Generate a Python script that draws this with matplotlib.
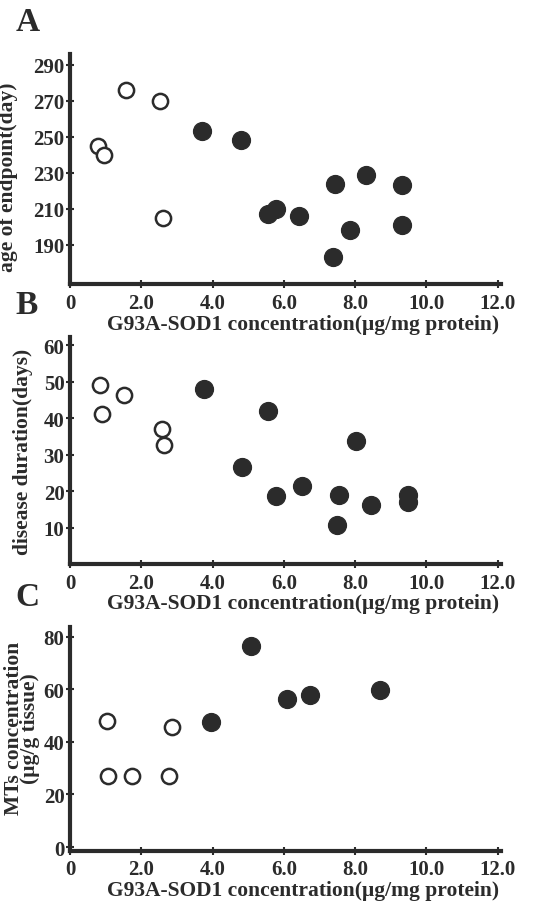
import matplotlib
matplotlib.use("Agg")
import matplotlib.pyplot as plt

plt.rcParams["font.family"] = ["Liberation Serif", "DejaVu Serif"]
plt.rcParams["font.weight"] = "bold"
plt.rcParams["axes.labelweight"] = "bold"
ink = "#2b2b2b"

# A: age of endpoint
a_open_x = [0.79, 0.95, 1.58, 2.53, 2.61]
a_open_y = [245, 240, 276, 270, 205]
a_fill_x = [3.70, 4.80, 5.57, 5.79, 6.43, 7.38, 7.45, 7.86, 8.32, 9.31, 9.31]
a_fill_y = [253, 248, 207, 210, 206, 183, 224, 198, 229, 223, 201]

# B: disease duration
b_open_x = [0.84, 0.91, 1.52, 2.59, 2.64]
b_open_y = [49.1, 41.1, 46.3, 37.0, 32.8]
b_fill_x = [3.75, 4.84, 5.57, 5.79, 6.50, 7.49, 7.56, 8.03, 8.44, 9.49, 9.49]
b_fill_y = [48.0, 26.8, 41.9, 18.8, 21.6, 10.7, 18.9, 33.7, 16.3, 19.1, 17.0]

# C: MTs concentration
c_open_x = [1.03, 1.07, 1.75, 2.79, 2.87]
c_open_y = [47.9, 26.9, 26.9, 26.9, 45.5]
c_fill_x = [3.95, 5.07, 6.09, 6.73, 8.70]
c_fill_y = [47.4, 76.6, 56.1, 57.8, 59.7]

x_ticks = [0, 2, 4, 6, 8, 10, 12]
x_tick_labels = ["0", "2.0", "4.0", "6.0", "8.0", "10.0", "12.0"]
x_label = "G93A-SOD1 concentration(\u03bcg/mg protein)"

fig = plt.figure(figsize=(5.6, 9.03), dpi=100)

panels = [
    dict(rect=[0.125, 0.684, 0.770, 0.255], ox=a_open_x, oy=a_open_y, fx=a_fill_x, fy=a_fill_y,
         ylim=(168, 296), yticks=[190, 210, 230, 250, 270, 290], ylabel="age of endpoint(day)",
         letter="A", letter_y=0.975, ylab_x=-0.12, ylab_y=0.47),
    dict(rect=[0.125, 0.374, 0.770, 0.252], ox=b_open_x, oy=b_open_y, fx=b_fill_x, fy=b_fill_y,
         ylim=(0, 62.4), yticks=[10, 20, 30, 40, 50, 60], ylabel="disease duration(days)",
         letter="B", letter_y=0.662, ylab_x=-0.085, ylab_y=0.5),
    dict(rect=[0.125, 0.0565, 0.770, 0.2485], ox=c_open_x, oy=c_open_y, fx=c_fill_x, fy=c_fill_y,
         ylim=(-1.5, 83.8), yticks=[0, 20, 40, 60, 80], ylabel="MTs concentration\n(\u03bcg/g tissue)",
         letter="C", letter_y=0.338, ylab_x=-0.07, ylab_y=0.55),
]

for p in panels:
    ax = fig.add_axes(p["rect"])
    ax.scatter(p["ox"], p["oy"], s=120, facecolors="white", edgecolors=ink, linewidths=1.8, zorder=3)
    ax.scatter(p["fx"], p["fy"], s=165, color=ink, edgecolors=ink, zorder=3)
    ax.set_xlim(0, 12.1)
    ax.set_ylim(*p["ylim"])
    ax.set_xticks(x_ticks)
    ax.set_xticklabels(x_tick_labels)
    ax.set_yticks(p["yticks"])
    for s in ["top", "right"]:
        ax.spines[s].set_visible(False)
    for s in ["left", "bottom"]:
        ax.spines[s].set_linewidth(3)
        ax.spines[s].set_color(ink)
    ax.tick_params(direction="inout", length=6, width=1.5, color=ink, labelcolor=ink,
                   labelsize=15, pad=1)
    ax.tick_params(axis="x", pad=3)
    ax.set_xlabel(x_label, fontsize=15.5, color=ink)
    ax.xaxis.set_label_coords(0.54, -0.128)
    ax.set_ylabel(p["ylabel"], fontsize=15.5, color=ink, linespacing=0.7)
    ax.yaxis.set_label_coords(p["ylab_x"], p["ylab_y"])
    fig.text(0.028, p["letter_y"], p["letter"], fontsize=24, color=ink, va="center")

fig.savefig("out.png", dpi=100)
